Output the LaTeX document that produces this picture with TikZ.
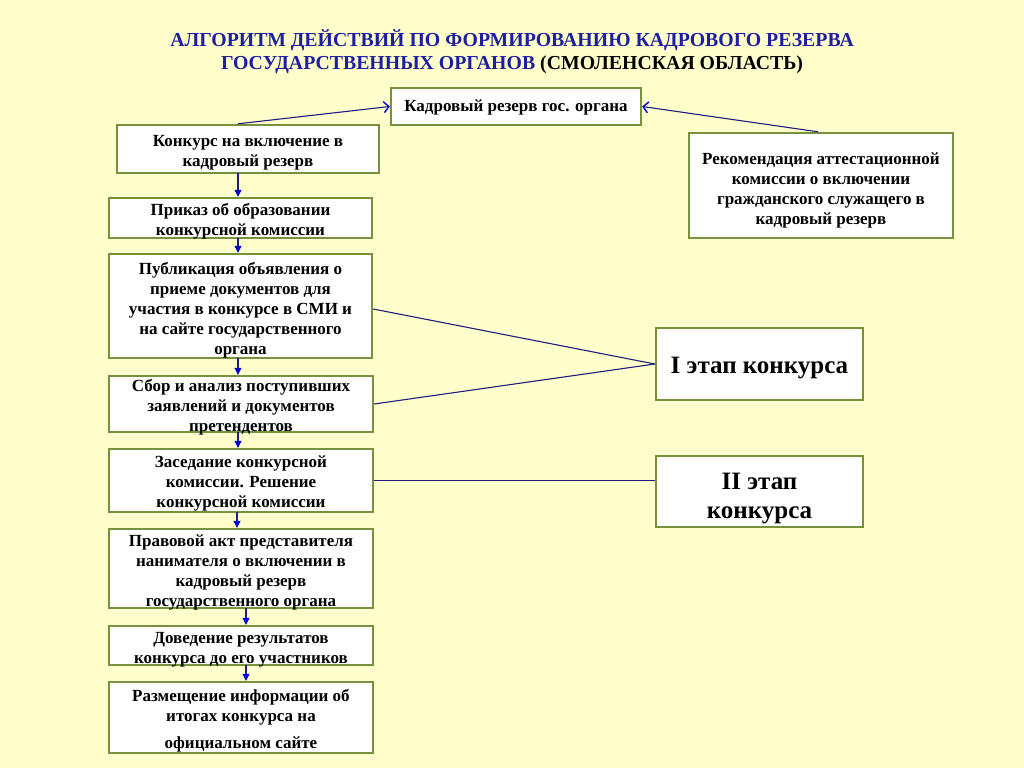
\documentclass[tikz,border=0pt]{standalone}
\usepackage{fontspec}
\setmainfont{Liberation Serif}
\usetikzlibrary{arrows.meta}
\definecolor{bg}{RGB}{255,255,204}
\definecolor{boxgreen}{RGB}{118,146,60}
\definecolor{linkblue}{RGB}{30,30,130}
\definecolor{headblue}{RGB}{0,0,210}
\definecolor{titleblue}{RGB}{30,30,160}
\newcommand\lowtext[2][4pt]{\raisebox{-#1}[\dimexpr\height-10pt\relax][\dimexpr\depth-10pt\relax]{\begin{tabular}{@{}c@{}}#2\end{tabular}}}
\begin{document}
\begin{tikzpicture}[x=1pt,y=-1pt,
  box/.style={draw=boxgreen,line width=2.4pt,fill=white,align=center,
    font=\fontsize{17}{20}\selectfont\bfseries,inner sep=0pt},
  stagebox/.style={box,font=\fontsize{25}{29}\selectfont\bfseries},
  link/.style={draw=linkblue,line width=1.1pt},
  downarrow/.style={link,-{Triangle[width=7pt,length=7pt,color=headblue]}},
  openarrow/.style={link,-{Straight Barb[length=5pt,width=11pt,line width=1.4pt,color=headblue]}}
]
\useasboundingbox[fill=bg] (0,0) rectangle (1024,768);

\node[font=\fontsize{19.8}{23}\selectfont\bfseries,align=center,text=titleblue] (title) at (512,52)
  {АЛГОРИТМ ДЕЙСТВИЙ ПО ФОРМИРОВАНИЮ КАДРОВОГО РЕЗЕРВА\\
   ГОСУДАРСТВЕННЫХ ОРГАНОВ \textcolor{black}{(СМОЛЕНСКАЯ ОБЛАСТЬ)}};

\node[box,minimum width=250,minimum height=37] (top) at (516,106.5) {\lowtext[3pt]{Кадровый резерв гос. органа}};
\node[box,minimum width=262,minimum height=48] (konk) at (248,149) {\lowtext[3pt]{Конкурс на включение в\\кадровый резерв}};
\node[box,minimum width=264,minimum height=105] (rek) at (821,185.5) {\lowtext[5pt]{Рекомендация аттестационной\\комиссии о включении\\гражданского служащего в\\кадровый резерв}};
\node[box,minimum width=263,minimum height=40] (prik) at (240.5,218) {\lowtext[3pt]{Приказ об образовании\\конкурсной комиссии}};
\node[box,minimum width=263,minimum height=104] (publ) at (240.5,306) {\lowtext{Публикация объявления о\\приеме документов для\\участия в конкурсе в СМИ и\\на сайте государственного\\органа}};
\node[box,minimum width=264,minimum height=56] (sbor) at (241,404) {\lowtext[3pt]{Сбор и анализ поступивших\\заявлений и документов\\претендентов}};
\node[box,minimum width=264,minimum height=63] (zas) at (241,480.5) {\lowtext[3pt]{Заседание конкурсной\\комиссии. Решение\\конкурсной комиссии}};
\node[box,minimum width=264,minimum height=79] (prav) at (241,568.5) {\lowtext{Правовой акт представителя\\нанимателя о включении в\\кадровый резерв\\государственного органа}};
\node[box,minimum width=264,minimum height=39] (dov) at (241,645.5) {\lowtext{Доведение результатов\\конкурса до его участников}};
\node[box,minimum width=264,minimum height=71] (razm) at (241,717.5) {\lowtext[3pt]{Размещение информации об\\итогах конкурса на\\[7pt]официальном сайте}};
\node[stagebox,minimum width=207,minimum height=72] (st1) at (759.5,364) {\lowtext[5pt]{I этап конкурса}};
\node[stagebox,minimum width=207,minimum height=71] (st2) at (759.5,491.5) {\lowtext[7pt]{II этап\\конкурса}};

\draw[openarrow] ([xshift=-10pt]konk.north) -- (top.west);
\draw[openarrow] ([xshift=-3pt]rek.north) -- (top.east);

\draw[downarrow] (238,173) coordinate (k1) -- (k1 |- prik.north);
\draw[downarrow] (238,238) coordinate (k2) -- (k2 |- publ.north);
\draw[downarrow] (238,358) coordinate (k3) -- (k3 |- sbor.north);
\draw[downarrow] (238,432) coordinate (k4) -- (k4 |- zas.north);
\draw[downarrow] (237,512) coordinate (k5) -- (k5 |- prav.north);
\draw[downarrow] (246,608) coordinate (k6) -- (k6 |- dov.north);
\draw[downarrow] (246,665) coordinate (k7) -- (k7 |- razm.north);

\draw[link] ([yshift=-3pt]publ.east) -- (st1.west);
\draw[link] (sbor.east) -- (st1.west);
\draw[link] (zas.east) -- (zas.east -| st2.west);
\end{tikzpicture}
\end{document}
